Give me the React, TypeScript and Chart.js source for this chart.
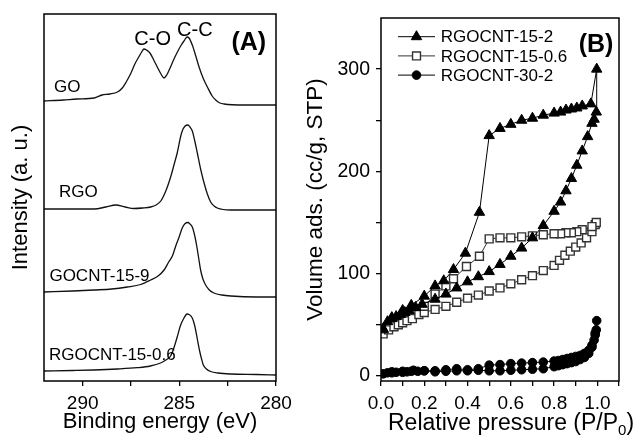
import React, { useEffect, useRef } from 'react';
import { Chart, registerables } from 'chart.js';
import { drawPoint } from 'chart.js/helpers';

Chart.register(...registerables);

const FONT = '"Liberation Sans", Arial, Helvetica, sans-serif';

// ---------- Panel A: XPS C1s spectra (binding energy in eV, intensity in arbitrary units, offset-stacked) ----------
const goEnergy = [292.0, 291.0, 290.3, 289.4, 289.0, 288.6, 288.2, 287.95, 287.75, 287.5, 287.3, 287.1, 286.95, 286.83, 286.7, 286.52, 286.3, 286.14, 285.95, 285.79, 285.65, 285.48, 285.3, 285.1, 284.9, 284.76, 284.6, 284.5, 284.33, 284.15, 283.98, 283.75, 283.55, 283.3, 283.12, 282.9, 282.69, 281.66, 280.0];
const goIntensity = [280, 281, 282, 283, 286, 287, 289, 293, 299, 308, 317, 324, 329, 332, 331, 328, 320, 314, 307, 303, 306, 313, 321, 329, 336, 340, 344, 343, 336, 325, 314, 302, 294, 285, 281, 278, 277, 276, 276];

const rgoEnergy = [292.0, 290.5, 289.4, 288.8, 288.29, 287.8, 287.35, 286.9, 286.48, 286.2, 285.96, 285.7, 285.45, 285.25, 285.11, 284.95, 284.85, 284.7, 284.55, 284.45, 284.33, 284.2, 284.07, 283.9, 283.72, 283.55, 283.38, 283.2, 283.04, 282.34, 280.0];
const rgoIntensity = [172, 172, 172, 174, 176, 174, 172.5, 173, 174, 176, 180, 190, 204, 218, 228, 243, 250, 255, 256, 254, 250, 240, 228, 212, 198, 187, 179, 175, 173, 171, 171];

const gocntEnergy = [292.0, 290.5, 289.42, 288.5, 287.69, 287.0, 286.48, 286.1, 285.79, 285.55, 285.36, 285.15, 285.01, 284.85, 284.7, 284.55, 284.45, 284.33, 284.2, 284.1, 284.0, 283.9, 283.78, 283.64, 283.45, 283.21, 282.8, 282.34, 281.0, 280.0];
const gocntIntensity = [89, 90, 91, 92, 94, 96.5, 101, 105, 111, 119, 125, 137, 144, 153, 157.5, 158.5, 157, 154, 145, 135, 123, 111, 102, 96, 91, 88, 86, 85, 84, 84];

const rgocntEnergy = [292.0, 290.5, 289.42, 288.2, 287.18, 286.5, 285.97, 285.7, 285.45, 285.3, 285.11, 284.95, 284.76, 284.6, 284.5, 284.33, 284.2, 284.07, 283.95, 283.85, 283.76, 283.6, 283.38, 283.0, 282.34, 281.0, 280.0];
const rgocntIntensity = [10, 10.5, 11, 12, 13.3, 15, 18, 21, 25, 32, 44, 55, 63, 67, 66.5, 63, 55, 42, 30, 22, 16, 12, 9.5, 8, 7, 6.5, 6];

const spectraNames = ['GO', 'RGO', 'GOCNT-15-9', 'RGOCNT-15-0.6'];
const spectraLabelEnergy = [291.48, 291.23, 291.72, 291.74];
const spectraLabelIntensity = [289, 184, 100, 21];

const peakNames = ['C-O', 'C-C'];
const peakLabelEnergy = [286.38, 284.2];
const peakLabelIntensity = [336, 345.5];

const energyTicks = [290, 287.5, 285, 282.5, 280];

// ---------- Panel B: N2 isotherms (relative pressure, volume adsorbed cc/g STP) ----------
const p152 = [0.01, 0.03, 0.05, 0.07, 0.09, 0.11, 0.13, 0.16, 0.19, 0.25, 0.30, 0.35, 0.40, 0.45, 0.50, 0.55, 0.60, 0.65, 0.70, 0.75, 0.80, 0.83, 0.855, 0.88, 0.905, 0.93, 0.955, 0.975, 0.985, 0.995,
  0.997,
  0.97, 0.93, 0.905, 0.88, 0.855, 0.83, 0.80, 0.75, 0.70, 0.65, 0.60, 0.55, 0.50, 0.455, 0.39, 0.335, 0.29, 0.25, 0.20, 0.14, 0.10, 0.05, 0.01];
const v152 = [45, 53, 56, 58, 60, 62, 64, 67, 70, 75, 80, 86, 92, 97, 102, 109, 117, 125, 135, 147, 161, 170, 181, 193, 206, 220, 234, 247, 251, 258,
  300,
  266, 264, 262, 261, 260, 258, 257, 255, 252, 250, 246, 242, 235, 160, 120, 104, 93, 88, 78, 69, 64, 57, 46];

const p1506 = [0.01, 0.035, 0.06, 0.08, 0.10, 0.12, 0.145, 0.175, 0.20, 0.25, 0.30, 0.35, 0.40, 0.45, 0.50, 0.55, 0.60, 0.65, 0.70, 0.75, 0.80, 0.825, 0.85, 0.875, 0.90, 0.925, 0.95, 0.975, 0.99,
  0.995, 0.975, 0.93, 0.905, 0.88, 0.855, 0.83, 0.80, 0.75, 0.70, 0.65, 0.60, 0.55, 0.50, 0.455, 0.395, 0.335, 0.30, 0.25, 0.20];
const v1506 = [41, 45, 48, 50, 52, 54, 56, 60, 62, 65, 68, 72, 76, 79, 83, 86, 90, 94, 98, 103, 108, 113, 118, 122, 126, 130, 135, 141, 148,
  150, 146, 143, 141, 140, 140, 139, 139, 138, 137, 136, 135, 135, 134, 117, 107, 95, 88, 80, 68];

const p302 = [0.01, 0.03, 0.05, 0.07, 0.10, 0.12, 0.14, 0.17, 0.20, 0.25, 0.30, 0.35, 0.40, 0.45, 0.50, 0.55, 0.60, 0.65, 0.70, 0.75, 0.80, 0.82, 0.84, 0.86, 0.88, 0.90, 0.92, 0.94, 0.96, 0.975, 0.985, 0.99, 0.995, 0.997,
  0.99, 0.975, 0.96, 0.94, 0.92, 0.90, 0.88, 0.86, 0.84, 0.82, 0.80, 0.75, 0.70, 0.65, 0.60, 0.55, 0.50, 0.45, 0.40, 0.35, 0.30, 0.25, 0.20, 0.15, 0.10, 0.05];
const v302 = [2, 3, 3, 3.5, 3.5, 4, 4.5, 4.5, 5, 4, 4.5, 5, 5, 5.5, 5, 5, 5.5, 6, 6.5, 7, 9, 10, 11, 12, 13, 14, 16, 18, 22, 28, 35, 40, 45, 54,
  42, 30, 25, 22, 20, 19, 18, 17, 16, 15, 14.5, 13.5, 13, 12.5, 12, 11, 10.5, 7, 6, 7, 6, 5, 5, 5.5, 4.5, 4];

const isothermNames = ['RGOCNT-15-2', 'RGOCNT-15-0.6', 'RGOCNT-30-2'];
const pressureTicks = [0, 0.1, 0.2, 0.3, 0.4, 0.5, 0.6, 0.7, 0.8, 0.9, 1.0, 1.1];
const volumeTicks = [0, 50, 100, 150, 200, 250, 300];

const toXY = (xs: number[], ys: number[]) => xs.map((x, i) => ({ x, y: ys[i] }));

const boxPlugin = {
  id: 'box',
  afterDraw(chart: any) {
    const { ctx, chartArea: a } = chart;
    ctx.save();
    ctx.strokeStyle = '#000';
    ctx.lineWidth = 1.5;
    ctx.strokeRect(a.left, a.top, a.right - a.left, a.bottom - a.top);
    ctx.restore();
  },
};

const annotationsA = {
  id: 'annA',
  afterDraw(chart: any) {
    const { ctx } = chart;
    const sx = chart.scales.x;
    const sy = chart.scales.y;
    ctx.save();
    ctx.fillStyle = '#000';
    ctx.textBaseline = 'alphabetic';
    ctx.textAlign = 'left';
    ctx.font = `17px ${FONT}`;
    spectraNames.forEach((t, i) => {
      ctx.fillText(t, sx.getPixelForValue(spectraLabelEnergy[i]), sy.getPixelForValue(spectraLabelIntensity[i]));
    });
    ctx.textAlign = 'center';
    ctx.font = `20px ${FONT}`;
    peakNames.forEach((t, i) => {
      ctx.fillText(t, sx.getPixelForValue(peakLabelEnergy[i]), sy.getPixelForValue(peakLabelIntensity[i]));
    });
    ctx.font = `bold 25px ${FONT}`;
    ctx.fillText('(A)', sx.getPixelForValue(281.41), sy.getPixelForValue(331));
    ctx.restore();
  },
};

const annotationsB = {
  id: 'annB',
  afterDraw(chart: any) {
    const { ctx, chartArea: a } = chart;
    ctx.save();
    ctx.fillStyle = '#000';
    // panel tag
    ctx.font = `bold 25px ${FONT}`;
    ctx.textAlign = 'center';
    ctx.textBaseline = 'alphabetic';
    ctx.fillText('(B)', a.right - 23, a.top + 34);
    // legend
    ctx.font = `17px ${FONT}`;
    ctx.textAlign = 'left';
    ctx.textBaseline = 'middle';
    chart.data.datasets.forEach((ds: any, i: number) => {
      const y = a.top + 18.7 + i * 19.2;
      const x0 = a.left + 17;
      ctx.strokeStyle = ds.borderColor;
      ctx.lineWidth = 1;
      ctx.beginPath();
      ctx.moveTo(x0, y);
      ctx.lineTo(x0 + 37, y);
      ctx.stroke();
      ctx.fillStyle = ds.pointBackgroundColor;
      ctx.strokeStyle = ds.pointBorderColor;
      ctx.lineWidth = ds.pointBorderWidth;
      drawPoint(ctx, { pointStyle: ds.pointStyle, radius: ds.pointRadius, borderWidth: ds.pointBorderWidth, rotation: 0 }, x0 + 18.5, y);
      ctx.fillStyle = '#000';
      ctx.fillText(ds.label, x0 + 42.7, y + 1);
    });
    // x-axis title with subscript
    ctx.textBaseline = 'alphabetic';
    ctx.textAlign = 'left';
    ctx.font = `23px ${FONT}`;
    const main = 'Relative pressure (P/P';
    const x0 = 388;
    const yb = 430;
    ctx.fillText(main, x0, yb);
    const w = ctx.measureText(main).width;
    ctx.font = `15px ${FONT}`;
    ctx.fillText('0', x0 + w, yb + 5);
    const w2 = ctx.measureText('0').width;
    ctx.font = `23px ${FONT}`;
    ctx.fillText(')', x0 + w + w2, yb);
    ctx.restore();
  },
};

function App() {
  const refA = useRef<HTMLCanvasElement>(null);
  const refB = useRef<HTMLCanvasElement>(null);

  useEffect(() => {
    const lineStyle = {
      borderColor: '#111',
      borderWidth: 1.3,
      pointRadius: 0,
      fill: false,
      cubicInterpolationMode: 'monotone' as const,
    };
    const chartA = new Chart(refA.current as HTMLCanvasElement, {
      type: 'line',
      data: {
        datasets: [
          { label: spectraNames[0], data: toXY(goEnergy, goIntensity), ...lineStyle },
          { label: spectraNames[1], data: toXY(rgoEnergy, rgoIntensity), ...lineStyle },
          { label: spectraNames[2], data: toXY(gocntEnergy, gocntIntensity), ...lineStyle },
          { label: spectraNames[3], data: toXY(rgocntEnergy, rgocntIntensity), ...lineStyle },
        ],
      },
      options: {
        responsive: false,
        animation: false,
        events: [],
        layout: { padding: { left: 0, top: 14, right: 363, bottom: 0 } },
        plugins: { legend: { display: false }, tooltip: { enabled: false } },
        scales: {
          x: {
            type: 'linear',
            min: 280,
            max: 292,
            reverse: true,
            afterBuildTicks: (s: any) => { s.ticks = energyTicks.map((v) => ({ value: v })); },
            afterFit: (s: any) => { s.height = 57; },
            ticks: {
              autoSkip: false,
              maxRotation: 0,
              padding: 6,
              color: '#000',
              font: { family: FONT, size: 19 },
              callback: (v: any) => (Number(v) % 5 === 0 ? String(v) : ''),
            },
            grid: { display: true, drawOnChartArea: false, drawTicks: true, tickLength: 5, color: '#000', lineWidth: 1.3 },
            border: { display: false },
            title: { display: true, text: 'Binding energy (eV)', color: '#000', font: { family: FONT, size: 22 }, padding: { top: 0, bottom: 3 } },
          },
          y: {
            type: 'linear',
            min: 0,
            max: 367,
            afterFit: (s: any) => { s.width = 44; },
            ticks: { display: false },
            grid: { display: false },
            border: { display: false },
            title: { display: true, text: 'Intensity (a. u.)', color: '#000', font: { family: FONT, size: 22 }, padding: { top: 8, bottom: 0 } },
          },
        },
      },
      plugins: [boxPlugin, annotationsA],
    } as any);

    const chartB = new Chart(refB.current as HTMLCanvasElement, {
      type: 'scatter',
      data: {
        datasets: [
          {
            label: isothermNames[0],
            data: toXY(p152, v152),
            showLine: true,
            borderColor: '#000',
            borderWidth: 1,
            pointStyle: 'triangle',
            pointRadius: 6,
            pointBackgroundColor: '#000',
            pointBorderColor: '#000',
            pointBorderWidth: 1,
          },
          {
            label: isothermNames[1],
            data: toXY(p1506, v1506),
            showLine: true,
            borderColor: '#333',
            borderWidth: 1,
            pointStyle: 'rect',
            pointRadius: 5.6,
            pointBackgroundColor: '#fff',
            pointBorderColor: '#333',
            pointBorderWidth: 1.4,
          },
          {
            label: isothermNames[2],
            data: toXY(p302, v302),
            showLine: true,
            borderColor: '#000',
            borderWidth: 1,
            pointStyle: 'circle',
            pointRadius: 4.3,
            pointBackgroundColor: '#000',
            pointBorderColor: '#000',
            pointBorderWidth: 1,
          },
        ],
      },
      options: {
        responsive: false,
        animation: false,
        events: [],
        layout: { padding: { left: 302, top: 18, right: 20, bottom: 0 } },
        plugins: { legend: { display: false }, tooltip: { enabled: false } },
        scales: {
          x: {
            type: 'linear',
            min: 0,
            max: 1.1,
            afterBuildTicks: (s: any) => { s.ticks = pressureTicks.map((v) => ({ value: v })); },
            afterFit: (s: any) => { s.height = 57; },
            ticks: {
              autoSkip: false,
              maxRotation: 0,
              padding: 6,
              color: '#000',
              font: { family: FONT, size: 19 },
              callback: (v: any) => {
                const n = Math.round(Number(v) * 10);
                return n % 2 === 0 && n <= 10 ? (n / 10).toFixed(1) : '';
              },
            },
            grid: { display: true, drawOnChartArea: false, drawTicks: true, tickLength: 5, color: '#000', lineWidth: 1.3 },
            border: { display: false },
            title: { display: false },
          },
          y: {
            type: 'linear',
            min: -5,
            max: 350,
            afterBuildTicks: (s: any) => { s.ticks = volumeTicks.map((v) => ({ value: v })); },
            afterFit: (s: any) => { s.width = 79; },
            ticks: {
              autoSkip: false,
              padding: 6,
              color: '#000',
              font: { family: FONT, size: 19.5 },
              callback: (v: any) => (Number(v) % 100 === 0 ? String(v) : ''),
            },
            grid: { display: true, drawOnChartArea: false, drawTicks: true, tickLength: 5, color: '#000', lineWidth: 1.3 },
            border: { display: false },
            title: { display: true, text: 'Volume ads. (cc/g, STP)', color: '#000', font: { family: FONT, size: 22.5 }, padding: { top: 0, bottom: 0 } },
          },
        },
      },
      plugins: [boxPlugin, annotationsB],
    } as any);

    return () => {
      chartA.destroy();
      chartB.destroy();
    };
  }, []);

  const canvasStyle: React.CSSProperties = { position: 'absolute', left: 0, top: 0, width: 639, height: 438 };
  return (
    <div style={{ position: 'fixed', left: 0, top: 0, width: 639, height: 438, background: '#fff' }}>
      <canvas ref={refA} width={639} height={438} style={canvasStyle} />
      <canvas ref={refB} width={639} height={438} style={canvasStyle} />
    </div>
  );
}

export default App;
